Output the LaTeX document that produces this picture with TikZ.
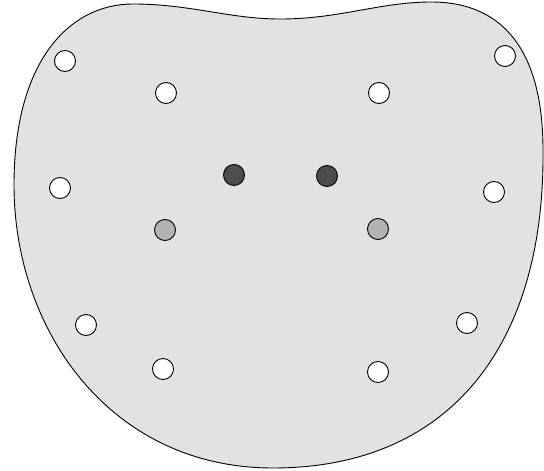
\documentclass[tikz,border=0pt]{standalone}
\definecolor{blobfill}{HTML}{E2E2E2}
\definecolor{midgray}{HTML}{B3B3B3}
\definecolor{darkgray}{HTML}{4D4D4D}
\tikzset{
  dot/.style={circle, draw=black, line width=0.9pt, minimum size=21pt, inner sep=0pt},
  wdot/.style={dot, fill=white},
  mdot/.style={dot, fill=midgray},
  ddot/.style={dot, fill=darkgray},
}
\begin{document}
\begin{tikzpicture}[x=1pt,y=-1pt]
\useasboundingbox (0,0) rectangle (544,471);
\draw[line width=0.9pt, fill=blobfill]
  (133,4) .. controls (190,4) and (230,19) .. (280,19)
  .. controls (340,19) and (380,2) .. (431,2)
  .. controls (510,2) and (543,60) .. (543,150)
  .. controls (545,345) and (450,468) .. (273,468)
  .. controls (110,468) and (14,330) .. (14,185)
  .. controls (14,60) and (70,4) .. (133,4) -- cycle;
\node[wdot] (w1) at (65,61) {};
\node[wdot] (w2) at (166,93) {};
\node[wdot] (w3) at (379,93) {};
\node[wdot] (w4) at (505,56) {};
\node[wdot] (w5) at (60,188) {};
\node[wdot] (w6) at (494,192) {};
\node[wdot] (w7) at (86,325) {};
\node[wdot] (w8) at (467,323) {};
\node[wdot] (w9) at (163,369) {};
\node[wdot] (w10) at (378,372) {};
\node[mdot] (m1) at (165,230) {};
\node[mdot] (m2) at (378,229) {};
\node[ddot] (d1) at (234,175) {};
\node[ddot] (d2) at (327,176) {};
\end{tikzpicture}
\end{document}
